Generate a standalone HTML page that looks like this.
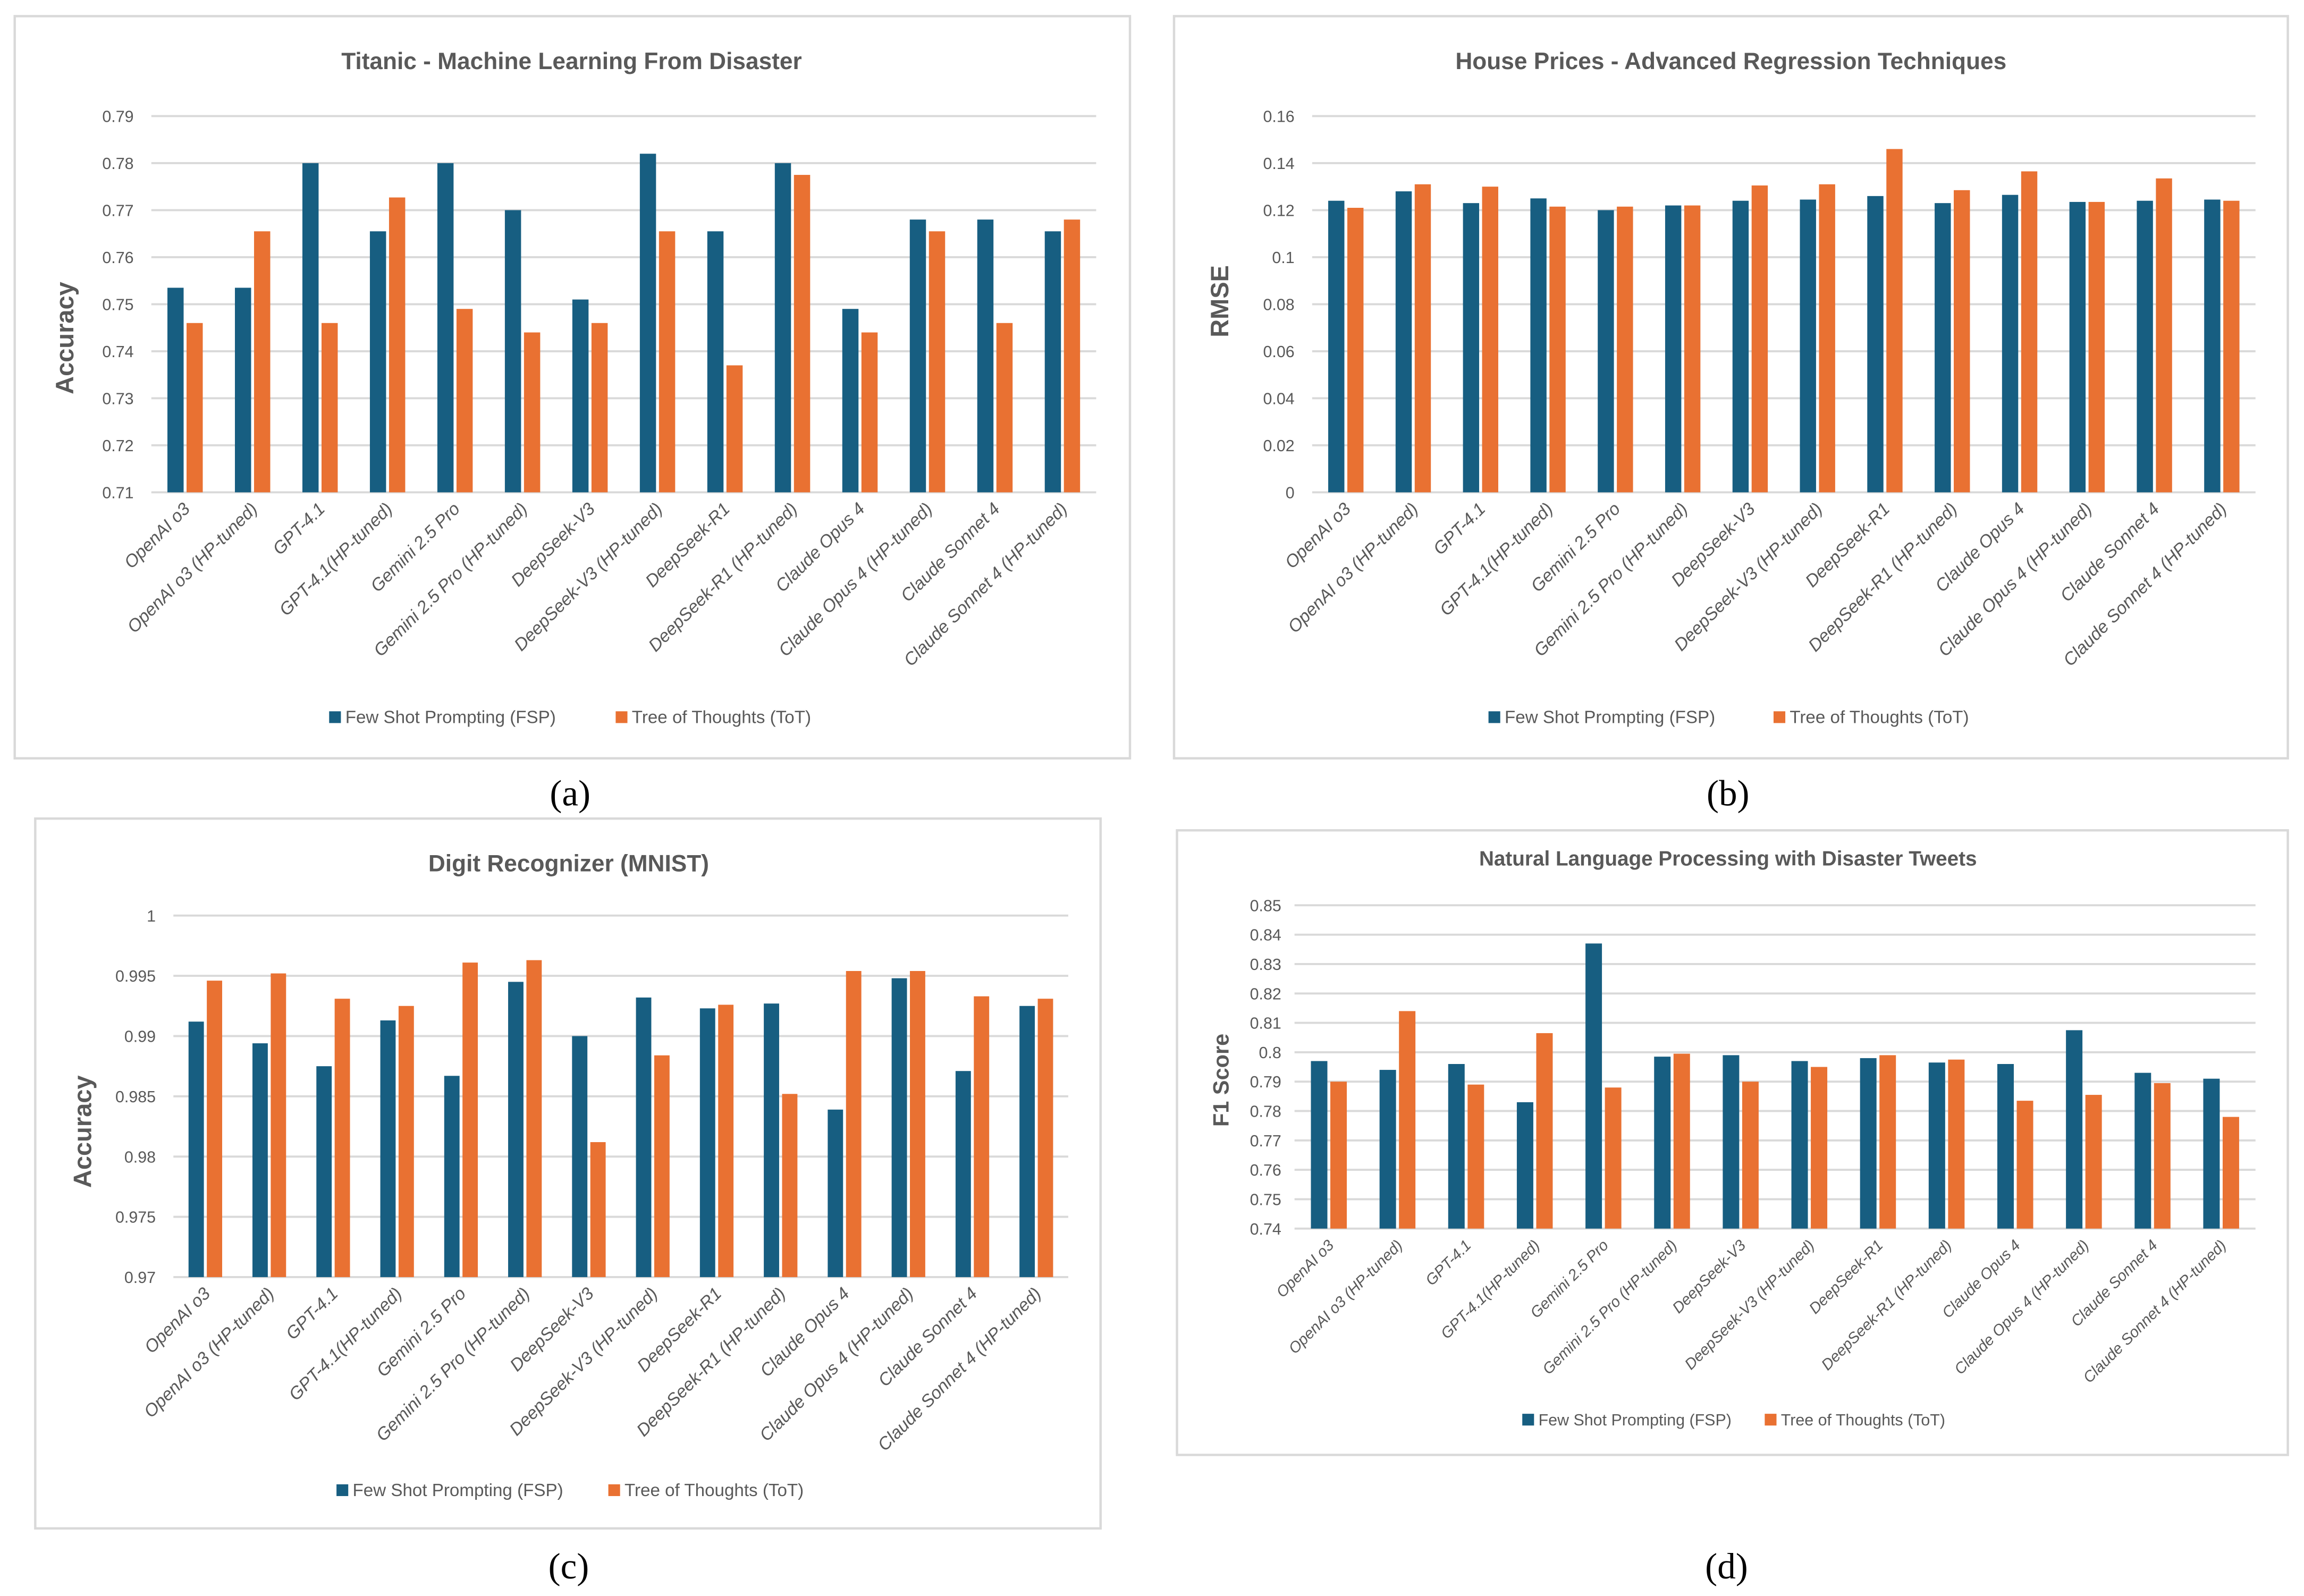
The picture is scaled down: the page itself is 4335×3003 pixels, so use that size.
<!DOCTYPE html>
<html><head><meta charset="utf-8"><style>
html,body{margin:0;padding:0;background:#fff;}
svg{display:block;}
text{font-family:"Liberation Sans",sans-serif;}
</style></head><body>
<svg id="fig" width="4335" height="3003" viewBox="0 0 1568 1086" preserveAspectRatio="none" xmlns="http://www.w3.org/2000/svg">
<rect x="0" y="0" width="1568" height="1086" fill="#fff"/>
</svg>
<script>
const categories = ["OpenAI o3","OpenAI o3 (HP-tuned)","GPT-4.1","GPT-4.1(HP-tuned)","Gemini 2.5 Pro","Gemini 2.5 Pro (HP-tuned)","DeepSeek-V3","DeepSeek-V3 (HP-tuned)","DeepSeek-R1","DeepSeek-R1 (HP-tuned)","Claude Opus 4","Claude Opus 4 (HP-tuned)","Claude Sonnet 4","Claude Sonnet 4 (HP-tuned)"];
const seriesNames = ["Few Shot Prompting (FSP)","Tree of Thoughts (ToT)"];

const titanicFSP = [0.7535,0.7535,0.780,0.7655,0.780,0.770,0.751,0.782,0.7655,0.780,0.749,0.768,0.768,0.7655];
const titanicToT = [0.746,0.7655,0.746,0.7727,0.749,0.744,0.746,0.7655,0.737,0.7775,0.744,0.7655,0.746,0.768];
const titanicTicks = ["0.71","0.72","0.73","0.74","0.75","0.76","0.77","0.78","0.79"];

const houseFSP = [0.124,0.128,0.123,0.125,0.120,0.122,0.124,0.1245,0.126,0.123,0.1265,0.1235,0.124,0.1245];
const houseToT = [0.121,0.131,0.130,0.1215,0.1215,0.122,0.1305,0.131,0.146,0.1285,0.1365,0.1235,0.1335,0.124];
const houseTicks = ["0","0.02","0.04","0.06","0.08","0.1","0.12","0.14","0.16"];

const mnistFSP = [0.9912,0.9894,0.9875,0.9913,0.9867,0.9945,0.9900,0.9932,0.9923,0.9927,0.9839,0.9948,0.9871,0.9925];
const mnistToT = [0.9946,0.9952,0.9931,0.9925,0.9961,0.9963,0.9812,0.9884,0.9926,0.9852,0.9954,0.9954,0.9933,0.9931];
const mnistTicks = ["0.97","0.975","0.98","0.985","0.99","0.995","1"];

const nlpFSP = [0.797,0.794,0.796,0.783,0.837,0.7985,0.799,0.797,0.798,0.7965,0.796,0.8075,0.793,0.791];
const nlpToT = [0.790,0.814,0.789,0.8065,0.788,0.7995,0.790,0.795,0.799,0.7975,0.7835,0.7855,0.7895,0.778];
const nlpTicks = ["0.74","0.75","0.76","0.77","0.78","0.79","0.8","0.81","0.82","0.83","0.84","0.85"];

const NS = "http://www.w3.org/2000/svg";
const svg = document.getElementById('fig');
const BLUE = "#175E81", ORANGE = "#E97132";
function mk(tag, attrs, parent, txt){
  const e = document.createElementNS(NS, tag);
  for (const k in attrs) e.setAttribute(k, attrs[k]);
  if (txt !== undefined) e.textContent = txt;
  parent.appendChild(e);
  return e;
}

function chart(cfg, fsp, tot, ticks){
  const g = mk('g', {}, svg);
  
  
  const fr = mk('rect', {x:cfg.fx, y:cfg.fy, width:cfg.fw, height:cfg.fh, fill:'#fff', stroke:'#d9d9d9', 'stroke-width':1.6}, g);
  
  
  const t = mk('text', {x:cfg.tx, y:cfg.ty, 'text-anchor':'middle', 'font-size':cfg.tfs, 'font-weight':'bold', fill:'#595959'}, g, cfg.title);
  
  
  const min = parseFloat(ticks[0]), max = parseFloat(ticks[ticks.length-1]);
  const yS = v => cfg.yb - (v - min) / (max - min) * (cfg.yb - cfg.yt);
  const gw = (cfg.x1 - cfg.x0) / categories.length;
  const xC = i => cfg.x0 + gw * (i + 0.5);
  ticks.forEach(tk => {
    const y = yS(parseFloat(tk));
    const l = mk('line', {x1:cfg.x0, x2:cfg.x1, y1:y, y2:y, stroke:'#d9d9d9', 'stroke-width':1.4}, g);
    
    
    const tt = mk('text', {x:cfg.x0 - (cfg.tg || 12), y:y + 4, 'text-anchor':'end', 'font-size':11, fill:'#595959'}, g, tk);
    
    
  });
  const bw = gw * 0.24, gap = 2;
  categories.forEach((c, i) => {
    const cx = xC(i);
    const yb1 = yS(fsp[i]);
    const b1 = mk('rect', {x:cx - bw - gap/2, y:yb1, width:bw, height:cfg.yb - yb1, fill:BLUE}, g);
    
    
    const yb2 = yS(tot[i]);
    const b2 = mk('rect', {x:cx + gap/2, y:yb2, width:bw, height:cfg.yb - yb2, fill:ORANGE}, g);
    
    
    const lx = cx + 4, ly = cfg.yb + 12;
    const xl = mk('text', {x:lx, y:ly, 'text-anchor':'end', 'font-size':cfg.xfs, 'font-style':'italic', fill:'#595959', transform:`rotate(-45 ${lx} ${ly})`}, g, c);
    
    
  });
  const yt = mk('text', {x:cfg.ytx, y:cfg.yty, 'text-anchor':'middle', 'font-size':cfg.ytfs, 'font-weight':'bold', fill:'#595959', transform:`rotate(-90 ${cfg.ytx} ${cfg.yty})`}, g, cfg.ytitle);
  
  
  [[cfg.lx1, BLUE, seriesNames[0]], [cfg.lx2, ORANGE, seriesNames[1]]].forEach(([lx, col, nm]) => {
    const sq = mk('rect', {x:lx, y:cfg.ly - 9, width:8, height:8, fill:col}, g);
    
    
    const lt = mk('text', {x:lx + 11, y:cfg.ly - 1, 'font-size':cfg.lfs, fill:'#595959'}, g, nm);
    
    
  });
  const cap = mk('text', {x:cfg.cx, y:cfg.cy, 'text-anchor':'middle', 'font-size':25, fill:'#000', style:'font-family:"Liberation Serif",serif'}, g, cfg.caption);
  
  
}

chart({name:'titanic-chart', title:'Titanic - Machine Learning From Disaster', fx:10, fy:11, fw:759, fh:505, tx:389, ty:47, tfs:16,
  x0:103, x1:746, yt:79, yb:335, xfs:12, ytitle:'Accuracy', ytx:50, yty:230, ytfs:17, lx1:224, lx2:419, ly:493, lfs:12, caption:'(a)', cx:388, cy:548},
  titanicFSP, titanicToT, titanicTicks);
chart({name:'house-prices-chart', title:'House Prices - Advanced Regression Techniques', fx:799, fy:11, fw:758, fh:505, tx:1178, ty:47, tfs:16,
  x0:893, x1:1535, yt:79, yb:335, xfs:12, ytitle:'RMSE', ytx:836, yty:205, ytfs:17, lx1:1013, lx2:1207, ly:493, lfs:12, caption:'(b)', cx:1176, cy:548},
  houseFSP, houseToT, houseTicks);
chart({name:'mnist-chart', title:'Digit Recognizer (MNIST)', fx:24, fy:557, fw:725, fh:483, tx:387, ty:593, tfs:16,
  x0:118, x1:727, yt:623, yb:869, xfs:12, ytitle:'Accuracy', ytx:62, yty:770, ytfs:17, lx1:229, lx2:414, ly:1019, lfs:12, caption:'(c)', cx:387, cy:1074},
  mnistFSP, mnistToT, mnistTicks);
chart({name:'nlp-chart', title:'Natural Language Processing with Disaster Tweets', fx:801, fy:565, fw:756, fh:425, tx:1176, ty:589, tfs:14,
  x0:881, x1:1535, yt:616, yb:836, xfs:10.5, tg:9, ytitle:'F1 Score', ytx:836, yty:735, ytfs:15, lx1:1036, lx2:1201, ly:971, lfs:11, caption:'(d)', cx:1175, cy:1074},
  nlpFSP, nlpToT, nlpTicks);
</script>
</body></html>
